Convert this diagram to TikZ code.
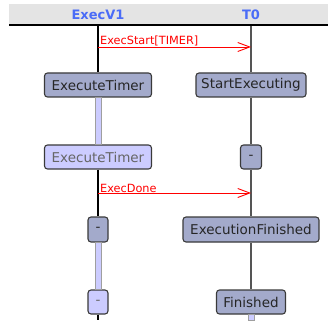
\documentclass[tikz,border=0pt]{standalone}
\usepackage{fontspec}
\setmainfont{DejaVu Sans}
\usetikzlibrary{arrows.meta}
\definecolor{hdrbg}{HTML}{E4E4E4}
\definecolor{hdrtext}{HTML}{4A6CF7}
\definecolor{statefill}{HTML}{A3AACB}
\definecolor{lightfill}{HTML}{CCCCFF}
\definecolor{boxline}{HTML}{3A3A3A}
\definecolor{msgred}{HTML}{FF0000}
\definecolor{lifegray}{HTML}{555555}
\begin{document}
\begin{tikzpicture}[x=1pt,y=-1pt,
  hdr/.style={text=hdrtext, font=\fontsize{13}{15}\selectfont\bfseries, inner sep=0pt},
  state/.style={draw=boxline, line width=1.1pt, rounded corners=3pt, fill=statefill,
    minimum height=24pt, inner sep=0pt, text=black!85,
    font=\fontsize{13.5}{16}\selectfont},
  ghost/.style={state, fill=lightfill, text=black!60},
  bar/.style={draw=gray!75, fill=lightfill, line width=0.6pt},
  lifeA/.style={line width=1.2pt, draw=black},
  lifeB/.style={line width=1.2pt, draw=lifegray},
  msg/.style={draw=msgred, line width=0.9pt, -{Straight Barb[length=12pt,width=9pt,line width=0.9pt]}},
  msglabel/.style={text=msgred, font=\fontsize{11.3}{13}\selectfont, anchor=south west, inner sep=1pt}]
\useasboundingbox (0,0) rectangle (328,320);

% header band
\fill[hdrbg] (9,4) rectangle (328,24);
\draw[line width=2pt] (9,25) -- (328,25);
\node[hdr] (hA) at (98,15) {ExecV1};
\node[hdr] (hB) at (251,15) {T0};
\coordinate (topA) at (98,26);
\coordinate (topB) at (251,26);
\coordinate (botA) at (98,320);
\coordinate (botB) at (251,320);

% states
\node[state, minimum width=107pt] (et1) at (98,85) {ExecuteTimer};
\node[state, minimum width=110pt] (se) at (251,85) {StartExecuting};
\node[ghost, minimum width=107pt] (et2) at (98,157) {ExecuteTimer};
\node[state, minimum width=21pt] (dB) at (251,157) {-};
\node[state, minimum width=20pt, minimum height=25pt] (dA1) at (98,229.5) {-};
\node[state, minimum width=136pt, minimum height=25pt] (ef) at (251,229.5) {ExecutionFinished};
\node[ghost, minimum width=20pt] (dA2) at (98,302) {-};
\node[state, minimum width=69pt] (fin) at (251,302) {Finished};

% lifelines and activation bars
\draw[lifeA] (topA) -- (et1.north);
\draw[bar] ([xshift=-3pt]et1.south) rectangle ([xshift=3pt]et2.north);
\draw[lifeA] (et2.south) -- (dA1.north);
\draw[bar] ([xshift=-3pt]dA1.south) rectangle ([xshift=3pt]dA2.north);
\draw[lifeA] (dA2.south) -- (botA);

\draw[lifeB] (topB) -- (se.north);
\draw[lifeB] (se.south) -- (dB.north);
\draw[lifeB] (dB.south) -- (ef.north);
\draw[lifeB] (ef.south) -- (fin.north);
\draw[bar] ([xshift=-3pt]fin.south) rectangle ([xshift=3pt]botB);

% messages
\coordinate (m1s) at (98,47);
\coordinate (m1e) at (251,47);
\draw[msg] (m1s) -- (m1e);
\node[msglabel] (l1) at ([xshift=1pt,yshift=-0.5pt]m1s) {ExecStart[TIMER]};
\coordinate (m2s) at (98,193);
\coordinate (m2e) at (251,193);
\draw[msg] (m2s) -- (m2e);
\node[msglabel] (l2) at ([xshift=1pt,yshift=-0.5pt]m2s) {ExecDone};
\end{tikzpicture}
\end{document}
